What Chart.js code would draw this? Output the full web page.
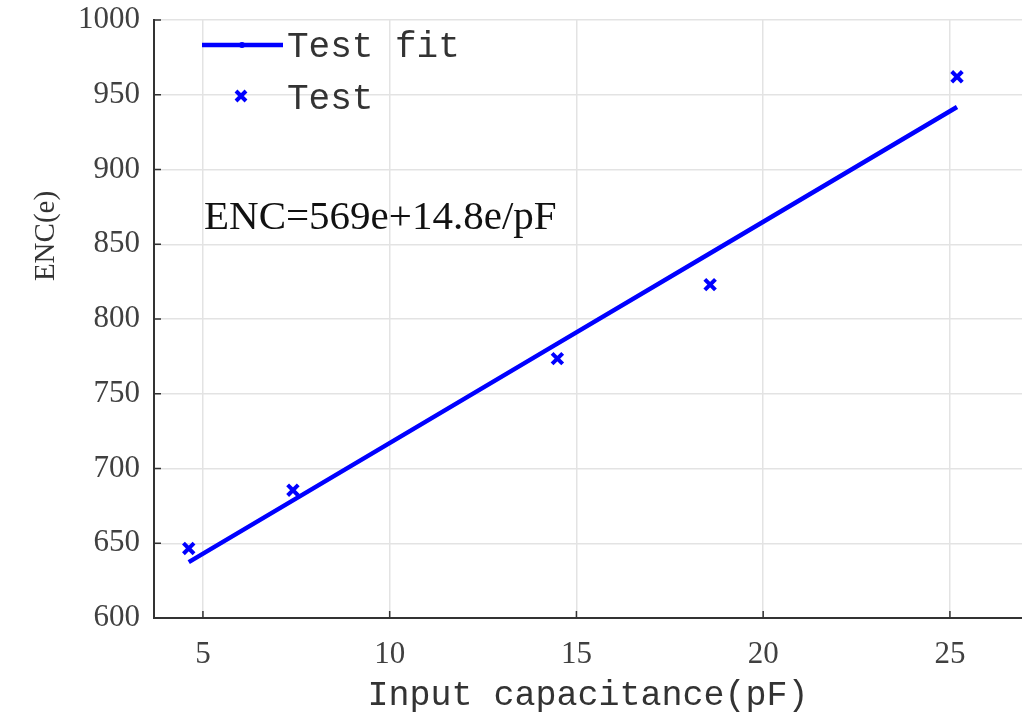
<!DOCTYPE html>
<html>
<head>
<meta charset="utf-8">
<script src="https://cdn.jsdelivr.net/npm/chart.js@4/dist/chart.umd.min.js"></script>
<style>
  html,body{margin:0;padding:0;background:#fff;}
  #wrap{width:1022px;height:717px;position:relative;}
</style>
</head>
<body>
<div id="wrap"><canvas id="c" width="1022" height="717"></canvas></div>
<script>
// ---- data ----
const testX = [4.62, 7.41, 14.49, 18.58, 25.19];
const testY = [646.5, 685.5, 773.5, 823, 962];
const fitX  = [4.62, 7.41, 14.49, 18.58, 25.19];
const fitY  = [637.4, 678.7, 783.5, 844.0, 941.8];
const xTicks = [5, 10, 15, 20, 25];
const yTicks = [600, 650, 700, 750, 800, 850, 900, 950, 1000];
const seriesNames = ['Test fit', 'Test'];
const formulaText = 'ENC=569e+14.8e/pF';
const xTitle = 'Input capacitance(pF)';
const yTitle = 'ENC(e)';

const BLUE = '#0000ff';

const overlay = {
  id: 'overlay',
  afterDraw(chart) {
    const ctx = chart.ctx;
    const ca = chart.chartArea;
    const xs = chart.scales.x, ys = chart.scales.y;
    ctx.save();
    // inner tick marks
    ctx.strokeStyle = '#333';
    ctx.lineWidth = 1.5;
    xTicks.forEach(v => {
      const px = xs.getPixelForValue(v);
      ctx.beginPath(); ctx.moveTo(px, ca.bottom); ctx.lineTo(px, ca.bottom - 7); ctx.stroke();
    });
    yTicks.forEach(v => {
      const py = ys.getPixelForValue(v);
      ctx.beginPath(); ctx.moveTo(ca.left, py); ctx.lineTo(ca.left + 7, py); ctx.stroke();
    });
    // legend
    ctx.strokeStyle = BLUE;
    ctx.fillStyle = BLUE;
    ctx.lineWidth = 4.5;
    ctx.beginPath(); ctx.moveTo(202, 45); ctx.lineTo(283, 45); ctx.stroke();
    ctx.beginPath(); ctx.arc(242, 45, 3, 0, Math.PI * 2); ctx.fill();
    ctx.lineWidth = 4;
    const cx = 241, cy = 96, r = 5;
    ctx.beginPath();
    ctx.moveTo(cx - r, cy - r); ctx.lineTo(cx + r, cy + r);
    ctx.moveTo(cx + r, cy - r); ctx.lineTo(cx - r, cy + r);
    ctx.stroke();
    ctx.fillStyle = '#333';
    ctx.font = '36px "Liberation Mono"';
    ctx.textAlign = 'left';
    ctx.textBaseline = 'middle';
    ctx.fillText(seriesNames[0], 287, 47);
    ctx.fillText(seriesNames[1], 287, 99);
    // formula annotation
    ctx.fillStyle = '#111';
    ctx.font = '41px "Liberation Serif"';
    ctx.fillText(formulaText, 204, 218);
    // y axis title
    ctx.save();
    ctx.translate(46, 236);
    ctx.rotate(-Math.PI / 2);
    ctx.textAlign = 'center';
    ctx.fillStyle = '#333';
    ctx.font = '29px "Liberation Serif"';
    ctx.fillText(yTitle, 0, 0);
    ctx.restore();
    ctx.restore();
  }
};

new Chart(document.getElementById('c'), {
  type: 'scatter',
  data: {
    datasets: [
      {
        label: seriesNames[0],
        type: 'line',
        data: fitX.map((x, i) => ({x, y: fitY[i]})),
        borderColor: BLUE,
        backgroundColor: BLUE,
        borderWidth: 4.5,
        pointRadius: 0,
        fill: false,
        tension: 0
      },
      {
        label: seriesNames[1],
        data: testX.map((x, i) => ({x, y: testY[i]})),
        pointStyle: 'crossRot',
        pointRadius: 7.5,
        borderColor: BLUE,
        backgroundColor: BLUE,
        pointBorderWidth: 4,
        borderWidth: 4,
        showLine: false
      }
    ]
  },
  options: {
    responsive: false,
    animation: false,
    events: [],
    layout: { autoPadding: false, padding: { left: 0, right: 0, top: 20, bottom: 0 } },
    plugins: { legend: { display: false }, tooltip: { enabled: false } },
    scales: {
      x: {
        type: 'linear',
        min: 3.69,
        max: 26.93,
        afterBuildTicks: s => { s.ticks = xTicks.map(v => ({value: v})); },
        afterFit: s => { s.height = 99; s.paddingLeft = 0; s.paddingRight = 0; },
        ticks: {
          color: '#404040',
          font: { family: '"Liberation Serif"', size: 31 },
          padding: 18,
          maxRotation: 0,
          autoSkip: false,
          callback: v => String(v)
        },
        grid: { color: '#e3e3e3', lineWidth: 1.5, drawTicks: false },
        border: { display: true, color: '#333', width: 2 },
        title: {
          display: true,
          text: xTitle,
          color: '#333',
          font: { family: '"Liberation Mono"', size: 35 },
          padding: { top: 0, bottom: 0 }
        }
      },
      y: {
        type: 'linear',
        min: 600,
        max: 1000,
        afterBuildTicks: s => { s.ticks = yTicks.map(v => ({value: v})); },
        afterFit: s => { s.width = 154; s.paddingTop = 0; s.paddingBottom = 0; },
        ticks: {
          color: '#404040',
          font: { family: '"Liberation Serif"', size: 31 },
          padding: 14,
          autoSkip: false,
          callback: v => String(v)
        },
        grid: { color: '#e3e3e3', lineWidth: 1.5, drawTicks: false },
        border: { display: true, color: '#333', width: 2 }
      }
    }
  },
  plugins: [overlay]
});
</script>
</body>
</html>
